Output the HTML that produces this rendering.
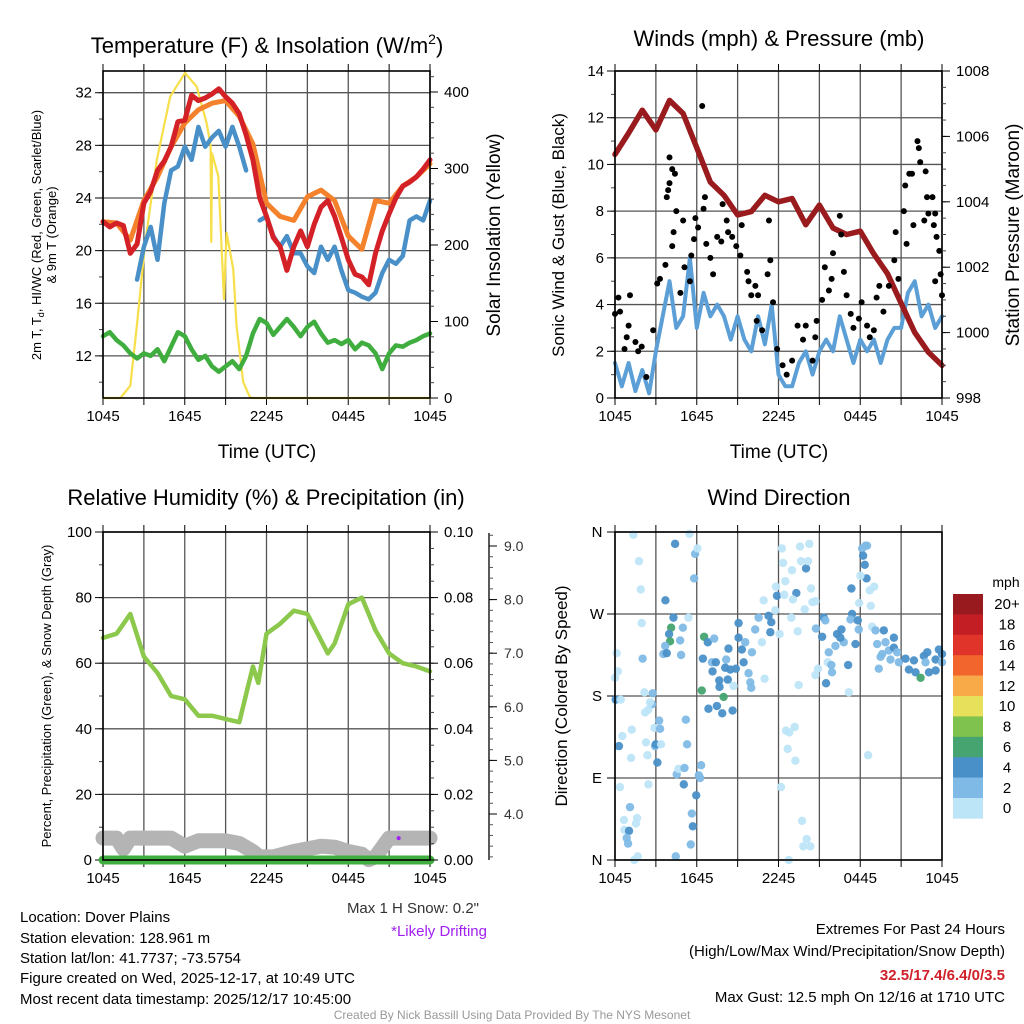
<!DOCTYPE html>
<html><head><meta charset="utf-8"><title>Dover Plains Meteogram</title>
<style>
html,body{margin:0;padding:0;background:#fff;}
svg{display:block;font-family:"Liberation Sans",Arial,sans-serif;}
</style></head>
<body>
<svg id="chart" width="1024" height="1024" viewBox="0 0 1024 1024" xmlns="http://www.w3.org/2000/svg">
<rect x="0" y="0" width="1024" height="1024" fill="#fff"/>
<g fill="#000" text-anchor="middle" font-size="22">
<text x="267" y="53">Temperature (F) &amp; Insolation (W/m<tspan dy="-9" font-size="14">2</tspan><tspan dy="9">)</tspan></text>
<text x="779" y="46">Winds (mph) &amp; Pressure (mb)</text>
<text x="266" y="505">Relative Humidity (%) &amp; Precipitation (in)</text>
<text x="779" y="505">Wind Direction</text>
</g>
<g fill="#000" text-anchor="middle">
<text x="267" y="458" font-size="19">Time (UTC)</text>
<text x="779" y="458" font-size="19">Time (UTC)</text>
<text transform="translate(41,235) rotate(-90)" font-size="13">2m T, T<tspan font-size="9" dy="3">d</tspan><tspan dy="-3">, HI/WC (Red, Green, Scarlet/Blue)</tspan></text>
<text transform="translate(56,235) rotate(-90)" font-size="13">&amp; 9m T (Orange)</text>
<text transform="translate(500,235) rotate(-90)" font-size="19">Solar Insolation (Yellow)</text>
<text transform="translate(564,235) rotate(-90)" font-size="17">Sonic Wind &amp; Gust (Blue, Black)</text>
<text transform="translate(1019,235) rotate(-90)" font-size="19">Station Pressure (Maroon)</text>
<text transform="translate(51,696) rotate(-90)" font-size="13">Percent, Precipitation (Green), &amp; Snow Depth (Gray)</text>
<text transform="translate(567,696) rotate(-90)" font-size="17">Direction (Colored By Speed)</text>
</g>
<g font-size="15" fill="#000">
<text x="20" y="922">Location: Dover Plains</text>
<text x="20" y="943">Station elevation: 128.961 m</text>
<text x="20" y="963">Station lat/lon: 41.7737; -73.5754</text>
<text x="20" y="983">Figure created on Wed, 2025-12-17, at 10:49 UTC</text>
<text x="20" y="1004">Most recent data timestamp: 2025/12/17 10:45:00</text>
<text x="479" y="913" text-anchor="end" fill="#333">Max 1 H Snow: 0.2"</text>
<text x="487" y="936" text-anchor="end" fill="#a020f0">*Likely Drifting</text>
<text x="1005" y="934" text-anchor="end">Extremes For Past 24 Hours</text>
<text x="1005" y="956" text-anchor="end">(High/Low/Max Wind/Precipitation/Snow Depth)</text>
<text x="1005" y="980" text-anchor="end" fill="#d0202a" font-weight="bold">32.5/17.4/6.4/0/3.5</text>
<text x="1005" y="1002" text-anchor="end">Max Gust: 12.5 mph On 12/16 at 1710 UTC</text>
<text x="512" y="1019" text-anchor="middle" font-size="12" fill="#999">Created By Nick Bassill Using Data Provided By The NYS Mesonet</text>
</g>
</svg>
<script>
// ---------- DATA ----------
const xTickLabels = ['1045','1645','2245','0445','1045'];
const hourly = [0,1,2,3,4,5,6,7,8,9,10,11,12,13,14,15,16,17,18,19,20,21,22,23,24];
const halfHours = [0,0.5,1,1.5,2,2.5,3,3.5,4,4.5,5,5.5,6,6.5,7,7.5,8,8.5,9,9.5,10,10.5,11,11.5,12,12.5,13,13.5,14,14.5,15,15.5,16,16.5,17,17.5,18,18.5,19,19.5,20,20.5,21,21.5,22,22.5,23,23.5,24];
// Panel 1 temperatures (F)
const temp2m = [22.2,21.8,22.1,21.9,19.8,20.5,23.6,24.5,26.1,26.8,27.9,29.8,29.9,31.8,31.4,31.6,31.9,32.3,31.7,31.2,30.4,28.8,26.9,24.0,22.6,21.0,20.3,18.5,20.3,21.5,20.3,22.0,23.3,23.8,22.6,21.0,19.3,18.2,18.0,17.4,19.8,21.5,22.8,24.0,24.9,25.2,25.6,26.2,26.9];
const temp9m = [22.2,22.1,20.8,23.8,25.6,27.9,29.7,30.7,31.2,31.4,30.2,28.1,23.6,22.6,22.3,24.1,24.6,23.8,21.1,20.1,23.8,23.6,24.9,25.6,26.6];
const dewpt = [13.5,13.8,13.2,12.8,12.2,11.8,12.2,12.0,12.5,11.6,12.7,13.8,13.5,12.5,11.7,12.0,11.2,10.8,11.2,11.6,11.0,12.0,13.7,14.8,14.5,13.6,14.2,14.8,14.2,13.5,14.2,14.6,13.7,13.0,13.2,12.9,13.2,12.5,13.0,12.8,12.2,11.0,12.2,12.8,12.7,13.0,13.2,13.5,13.7];
const hiwcHours = [1,1.5,2,2.5,3,3.5,4,4.5,5,5.5,6,6.5,7,7.5,8,8.5,9,9.5,10,10.5,11,11.5,12,12.5,13,13.5,14,14.5,15,15.5,16,16.5,17,17.5,18,18.5,19,19.5,20,20.5,21,21.5,22,22.5,23,23.5,24];
const hiwc = [20.4,null,null,17.8,20.3,21.8,19.3,23.6,26.1,26.4,27.9,26.9,29.4,27.9,28.6,29.1,27.9,29.4,27.9,26.1,null,22.3,22.6,21.1,20.3,21.1,19.8,19.8,18.8,18.3,20.3,19.3,20.3,18.5,17.0,16.8,16.5,16.3,16.8,18.3,19.3,19.0,19.6,22.3,22.6,22.3,23.8];
const solarHours = [0,1.27,2.0,2.49,3.1,3.95,4.93,6.02,6.88,7.61,7.9,7.95,8.0,8.46,8.88,9.07,9.56,9.8,10.29,10.78,11,24];
const solar = [0,0,16,95,203,311,394,425,407,359,330,204,320,290,129,216,168,95,21,1,0,0];
const p1LeftTicks = [12,16,20,24,28,32];
const p1RightTicks = [0,100,200,300,400];
// Panel 2
const windSpeed = [1.5,0.5,1.5,0.3,1.2,0.2,2,3.5,5,3,3.5,6,3,4.5,3.5,4,3.5,2.5,3.5,2.5,2,3.5,2.3,4,1,0.5,0.5,1.5,2,1,2,2.5,2,3.5,2.5,1.5,2.5,2,2.5,1.5,2.5,3,3,4.5,5,3.5,4,3,3.5];
const pressure = [1005.45,1006.1,1006.8,1006.2,1007.1,1006.7,1005.65,1004.6,1004.2,1003.6,1003.7,1004.2,1004.0,1004.1,1003.3,1003.9,1003.2,1003.0,1003.1,1002.4,1001.8,1000.9,1000.0,999.4,999.0];
const gustHours = [0,0.25,0.37,0.7,0.86,1.1,1,1.5,1.7,1.96,2.3,2.8,3.1,3.3,3.7,3.8,3.9,4,4,4.2,4.4,4.2,4.3,4.5,4.8,5,5.1,5.5,5.8,5.6,5.9,6.1,6.4,6.5,6.6,6.7,7,7.2,7.5,7.8,7.9,8.2,8.3,8.6,8.9,9.2,9.3,9.7,9.8,10,10.3,10.5,10.4,10.8,11.2,11.3,11.4,11.6,11.9,12.3,12.6,13,13.4,13.8,14,14.5,14.7,14.8,15.2,15.4,15.7,15.9,16,16.5,16.6,16.8,17,17.3,17.5,17.9,18.1,18.5,18.7,19,19.2,19.4,19.7,20.1,20.5,20.6,20.8,21.2,21.3,21.4,21.6,21.8,21.9,22.2,22.3,22.4,22.7,22.8,22.9,23,23.3,23.4,23.5,23.6,23.8,23.5,23.9,24];
const gustSpeed = [3.6,4.3,3.7,2.1,2.6,4.4,3.1,2.4,2,2.2,0.9,2.9,4.9,5.1,5.7,8.6,8.9,9.2,10.3,9.8,9.6,6.5,7.1,8,4.5,7.6,5.6,5,6.8,6.1,7.7,7.3,12.5,8.1,8.6,6.6,6,5.3,6.9,6.7,8.3,7.6,7.1,6.9,6.5,6.1,7.4,5.4,5,4.4,4.8,4.4,3.3,2.9,5.3,7.6,5.9,4.1,2.1,1.4,1,1.6,3.1,2.5,3.1,1.6,2.6,3.3,4.2,5.6,4.6,5.1,6.2,7.8,7,5.4,4.4,3.6,3,3.4,4.1,3.1,2.6,2.9,4.3,4.8,3.7,4.8,5.9,7.1,5.1,8,9.1,6.6,9.6,9.6,7.4,11,10.7,10.1,7.6,9.7,8.6,7.9,8.6,7.4,7.9,6.9,6.3,5,5.3,4.4];
const p2LeftTicks = [0,2,4,6,8,10,12,14];
const p2RightTicks = [998,1000,1002,1004,1006,1008];
// Panel 3
const rhHours = [0,1,2,3,4,5,6,7,8,9,10,11,11.4,12,13,14,15,16,16.5,17,18,19,20,21,22,23,24];
const rh = [67.7,69,75,62,57,50,49,44,44,43,42,59,54,69,72,76,75,67,63,66,78,80,70,63,60,59,57.5];
const snowHours = [0,1,1.5,2,5,6,7,9,10,11,11.5,12,12.5,14,15,16,17,18,19,19.5,20,21,24];
const snowDepth = [3.55,3.55,3.35,3.55,3.55,3.4,3.5,3.5,3.45,3.3,3.2,3.2,3.2,3.3,3.35,3.4,3.38,3.3,3.25,3.15,3.2,3.55,3.55];
const precipHours = [0,24];
const precip = [0,0];
const driftHours = [21.7];
const driftDepth = [3.55];
const p3LeftTicks = [0,20,40,60,80,100];
const p3RightTicks = [0,0.02,0.04,0.06,0.08,0.10];
const snowTicks = [4,5,6,7,8,9];
// Panel 4
const dirHours = [1.35,4.41,5.47,5.88,6.05,1.76,5.81,1.89,3.70,4.29,5.39,1.96,4.12,4.98,3.97,4.04,4.78,3.68,3.55,3.80,4.85,6.54,6.81,7.28,2.03,0.12,0.20,0,6.45,7.11,7.40,7.16,8.16,8.33,8.09,8.46,8.87,7.65,8.28,7.67,8.70,6.37,7.97,6.86,7.48,7.87,8.63,9.07,9.07,9.31,9.56,9.44,10.05,9.80,9.93,10.0,10.98,10.54,10.29,10.78,11.27,11.47,11.40,10.91,11.76,12.08,11.89,11.81,12.43,12.25,12.33,12.50,12.99,13.31,13.06,12.94,13.41,13.58,13.65,14.02,14.17,14.26,14.39,13.92,14.49,14.71,14.75,14.71,14.90,15.32,15.44,15.20,15.69,15.61,15.88,15.93,15.49,16.18,16.30,16.62,16.79,16.54,17.11,17.40,17.65,17.28,17.82,17.89,17.35,17.92,18.14,18.38,18.21,18.50,18.33,18.46,18.01,19.02,18.70,18.77,18.87,19.12,19.73,19.24,19.61,20.10,19.85,20.47,20.47,20.71,20.22,20.83,19.49,19.36,21.32,21.57,21.94,22.06,22.43,22.67,22.92,22.79,23.04,23.53,23.53,23.77,24.0,24.0,17.16,13.48,18.58,2.16,2.77,2.72,2.57,2.21,2.45,2.89,3.31,3.24,1.23,0.54,0.29,2.28,2.94,2.99,3.38,2.38,1.18,3.11,5.20,5.29,4.53,4.66,5.10,6.32,6.15,6.25,5.05,5.96,2.45,0.37,1.10,0.66,1.62,1.54,0.69,1.03,0.86,0.96,5.64,5.71,5.56,4.46,1.67,1.42,12.55,12.79,13.19,12.67,13.24,12.18,13.73,14.07,13.82,14.34,12.75,0.05,0.42];
const dirDeg = [357,347,358,336,342,328,309,297,285,266,266,260,255,255,248,240,241,235,226,227,225,245,239,243,221,227,207,200,221,217,217,207,220,232,211,209,210,197,198,190,191,186,179,166,169,161,164,260,244,231,239,217,228,205,195,189,199,266,253,239,268,261,250,285,274,248,290,300,291,342,326,306,318,293,286,266,251,344,328,320,328,347,298,275,283,284,254,203,210,266,263,245,228,217,214,206,194,235,248,253,239,244,214,270,237,264,263,253,298,282,342,345,334,345,324,309,312,300,296,279,256,252,252,237,226,230,239,244,233,228,220,217,223,210,221,209,219,206,200,224,228,217,206,208,220,231,226,217,184,192,115,184,183,171,173,162,165,145,144,153,143,136,125,129,125,127,127,115,112,107,154,127,94,100,101,104,93,90,83,71,83,80,58,44,46,40,33,32,24,18,51,37,17,4,4,0,142,140,146,122,109,80,43,23,15,15,0,176,176];
const dirSpeed = [1,5,1,3,1,1,3,1,5,5,1,1,7,3,5,7,3,3,3,5,3,7,5,3,3,1,1,1,5,3,5,5,3,5,5,5,5,5,5,5,1,7,7,5,5,5,5,5,5,5,3,5,3,3,3,3,1,3,3,1,5,5,5,1,1,1,5,1,1,1,1,1,1,5,1,1,1,1,1,5,1,1,1,1,1,1,3,1,1,5,3,5,3,1,3,3,5,3,5,5,3,5,5,5,5,3,5,3,5,1,3,3,5,3,5,5,1,1,1,1,1,3,5,3,3,3,3,5,5,3,3,3,3,3,5,5,5,5,7,5,5,3,5,5,5,5,5,3,1,1,1,1,3,3,1,1,1,1,3,3,1,1,5,1,3,5,1,1,1,5,3,3,3,1,3,3,3,3,5,5,1,1,3,1,1,1,1,5,3,3,3,5,3,3,1,1,1,1,1,1,1,1,1,1,1,1,1,5,1];
const dirTickLabels = ['N','E','S','W','N'];
const dirTicks = [0,90,180,270,360];
const speedBins = [0,2,4,6,8,10,12,14,16,18,20];
const speedBinLabels = ['0','2','4','6','8','10','12','14','16','18','20+'];
const speedColors = ['#bde5f8','#7fbae6','#4a90c8','#45a470','#7fc24e','#e6e05a','#f9aa48','#f2662d','#e0342a','#c41e25','#991a1e'];

// ---------- HELPERS ----------
const NS='http://www.w3.org/2000/svg';
const svg=document.getElementById('chart');
function mk(tag, attrs, name, parent){
  const el=document.createElementNS(NS,tag);
  for(const k in attrs) el.setAttribute(k,attrs[k]);
  
  
  (parent||svg).appendChild(el);
  return el;
}
function lin(d0,d1,r0,r1){return v=>r0+(v-d0)*(r1-r0)/(d1-d0);}
function pathFrom(xs,ys,X,Y){
  let d='',pen=false;
  for(let i=0;i<xs.length;i++){
    if(ys[i]===null||ys[i]===undefined){pen=false;continue;}
    d+=(pen?'L':'M')+X(xs[i]).toFixed(1)+' '+Y(ys[i]).toFixed(1);
    pen=true;
  }
  return d;
}
function frame(name,x0,x1,y0,y1,X,Yleft,leftTicks,leftMinor,leftFmt,gridTicks){
  const g=mk('g',{},name);
  for(let h=0;h<=24;h+=3){
    mk('line',{x1:X(h),x2:X(h),y1:y0,y2:y1,stroke:'#555','stroke-width':1.3},'vertical-gridline',g);
  }
  gridTicks.forEach(t=>{
    mk('line',{x1:x0,x2:x1,y1:Yleft(t),y2:Yleft(t),stroke:'#555','stroke-width':1.3},'horizontal-gridline',g);
  });
  for(let h=0;h<=24;h+=3){
    mk('line',{x1:X(h),x2:X(h),y1:y1,y2:y1+7,stroke:'#000','stroke-width':1},'x-tick',g);
    mk('line',{x1:X(h),x2:X(h),y1:y0,y2:y0-7,stroke:'#000','stroke-width':1},'x-tick-top',g);
  }
  xTickLabels.forEach((l,i)=>{
    const t=mk('text',{x:X(i*6),y:y1+23,'text-anchor':'middle','font-size':15},'x-tick-label',g);
    t.textContent=l;
  });
  leftMinor.forEach(t=>{
    mk('line',{x1:x0-4,x2:x0,y1:Yleft(t),y2:Yleft(t),stroke:'#444','stroke-width':1},'y-minor-tick',g);
  });
  leftTicks.forEach(t=>{
    mk('line',{x1:x0-8,x2:x0,y1:Yleft(t),y2:Yleft(t),stroke:'#000','stroke-width':1},'y-tick',g);
    const tx=mk('text',{x:x0-11,y:Yleft(t)+5,'text-anchor':'end','font-size':15},'y-tick-label',g);
    tx.textContent=leftFmt(t);
  });
  return g;
}
function rightAxis(name,x,y0,y1,Y,ticks,minor,fmt){
  const g=mk('g',{},name);
  minor.forEach(t=>{mk('line',{x1:x,x2:x+4,y1:Y(t),y2:Y(t),stroke:'#444','stroke-width':1},'right-minor-tick',g);});
  ticks.forEach(t=>{
    mk('line',{x1:x,x2:x+8,y1:Y(t),y2:Y(t),stroke:'#000','stroke-width':1},'right-tick',g);
    const tx=mk('text',{x:x+14,y:Y(t)+5,'text-anchor':'start','font-size':15},'right-tick-label',g);
    tx.textContent=fmt(t);
  });
  return g;
}
function border(x0,x1,y0,y1,name){
  mk('rect',{x:x0,y:y0,width:x1-x0,height:y1-y0,fill:'none',stroke:'#000','stroke-width':1.6},name);
}
function range(a,b,s){const r=[];for(let v=a;v<=b+1e-9;v+=s)r.push(+v.toFixed(4));return r;}

// ---------- PANEL 1 ----------
{
  const x0=103,x1=430,y0=71,y1=398;
  const X=lin(0,24,x0,x1), T=lin(8.8,33.65,y1,y0), S=lin(0,400,398,92);
  frame('temperature-panel',x0,x1,y0,y1,X,T,p1LeftTicks,range(10,32,2),v=>String(v),p1LeftTicks);
  const g=mk('g',{fill:'none','stroke-linejoin':'round','stroke-linecap':'round'},'temperature-series');
  mk('path',{d:pathFrom(solarHours,solar,X,S),stroke:'#f7df4a','stroke-width':2.2},'solar-insolation-line',g);
  mk('path',{d:pathFrom(halfHours,dewpt,X,T),stroke:'#3fae3f','stroke-width':4.5},'dewpoint-line',g);
  mk('path',{d:pathFrom(hiwcHours,hiwc,X,T),stroke:'#4a90c8','stroke-width':4.5},'heat-index-wind-chill-line',g);
  mk('path',{d:pathFrom(hourly,temp9m,X,T),stroke:'#f4812c','stroke-width':5},'temp-9m-line',g);
  mk('path',{d:pathFrom(halfHours,temp2m,X,T),stroke:'#d42027','stroke-width':5},'temp-2m-line',g);
  border(x0,x1,y0,y1,'temperature-plot-border');
  rightAxis('solar-axis',x1,y0,y1,S,p1RightTicks,range(0,420,20),v=>String(v));
}
// ---------- PANEL 2 ----------
{
  const x0=615,x1=942,y0=71,y1=398;
  const X=lin(0,24,x0,x1), W=lin(0,14,y1,y0), P=lin(998,1008,y1,y0);
  frame('winds-panel',x0,x1,y0,y1,X,W,p2LeftTicks,range(0,14,1),v=>String(v),p2LeftTicks);
  const g=mk('g',{fill:'none','stroke-linejoin':'round','stroke-linecap':'round'},'wind-series');
  mk('path',{d:pathFrom(halfHours,windSpeed,X,W),stroke:'#5b9fd6','stroke-width':4},'sonic-wind-line',g);
  const gd=mk('g',{fill:'#000'},'gust-points');
  for(let i=0;i<gustHours.length;i++){
    mk('circle',{cx:X(gustHours[i]),cy:W(gustSpeed[i]),r:3},'gust-point',gd);
  }
  mk('path',{d:pathFrom(hourly,pressure,X,P),stroke:'#9a1b1e','stroke-width':5.5},'pressure-line',g);
  border(x0,x1,y0,y1,'winds-plot-border');
  rightAxis('pressure-axis',x1,y0,y1,P,p2RightTicks,range(998,1008,0.5),v=>String(v));
}
// ---------- PANEL 3 ----------
{
  const x0=103,x1=430,y0=532,y1=860;
  const X=lin(0,24,x0,x1), R=lin(0,100,y1,y0), Pr=lin(0,0.1,y1,y0), Sn=lin(4,9,814,546);
  frame('humidity-panel',x0,x1,y0,y1,X,R,p3LeftTicks,range(0,100,10),v=>String(v),p3LeftTicks);
  const g=mk('g',{fill:'none','stroke-linejoin':'round','stroke-linecap':'round'},'humidity-series');
  mk('path',{d:pathFrom(snowHours,snowDepth,X,Sn),stroke:'#b4b4b4','stroke-width':15},'snow-depth-line',g);
  mk('path',{d:pathFrom(precipHours,precip,X,Pr),stroke:'#3fae3f','stroke-width':9},'precipitation-line',g);
  mk('path',{d:pathFrom(rhHours,rh,X,R),stroke:'#8cc84b','stroke-width':4.5},'relative-humidity-line',g);
  for(let i=0;i<driftHours.length;i++){
    mk('circle',{cx:X(driftHours[i]),cy:Sn(driftDepth[i]),r:2,fill:'#a020f0'},'drifting-marker',g);
  }
  border(x0,x1,y0,y1,'humidity-plot-border');
  rightAxis('precip-axis',x1,y0,y1,Pr,p3RightTicks,range(0,0.1,0.005),v=>v.toFixed(2));
  const sg=mk('g',{},'snow-axis');
  mk('line',{x1:489,x2:489,y1:533,y2:860,stroke:'#000','stroke-width':1.3},'snow-axis-line',sg);
  range(3.2,9.2,0.2).forEach(t=>{mk('line',{x1:489,x2:493,y1:Sn(t),y2:Sn(t),stroke:'#555','stroke-width':1},'snow-minor-tick',sg);});
  snowTicks.forEach(t=>{
    mk('line',{x1:489,x2:497,y1:Sn(t),y2:Sn(t),stroke:'#000','stroke-width':1},'snow-tick',sg);
    const tx=mk('text',{x:504,y:Sn(t)+5,'font-size':14,fill:'#333'},'snow-tick-label',sg);
    tx.textContent=t.toFixed(1);
  });
}
// ---------- PANEL 4 ----------
{
  const x0=615,x1=942,y0=532,y1=860;
  const X=lin(0,24,x0,x1), D=lin(0,360,y1,y0);
  const g0=frame('wind-direction-panel',x0,x1,y0,y1,X,D,[],[],v=>'',dirTicks);
  dirTicks.forEach((t,i)=>{
    mk('line',{x1:x0-8,x2:x0,y1:D(t),y2:D(t),stroke:'#000','stroke-width':1},'direction-tick',g0);
    const tx=mk('text',{x:x0-18,y:D(t)+5,'text-anchor':'middle','font-size':15},'direction-tick-label',g0);
    tx.textContent=dirTickLabels[i];
  });
  function colorFor(s){let k=0;for(let i=0;i<speedBins.length;i++){if(s>=speedBins[i])k=i;}return speedColors[k];}
  const g=mk('g',{'fill-opacity':0.95},'direction-points');
  for(let i=0;i<dirHours.length;i++){
    mk('circle',{cx:X(dirHours[i]),cy:D(dirDeg[i]),r:4.2,fill:colorFor(dirSpeed[i])},'direction-point',g);
  }
  border(x0,x1,y0,y1,'wind-direction-plot-border');
  const cb=mk('g',{},'speed-colorbar');
  const t=mk('text',{x:1006,y:587,'text-anchor':'middle','font-size':14},'colorbar-title',cb);
  t.textContent='mph';
  const n=speedColors.length, top=594, bh=20.4;
  for(let i=0;i<n;i++){
    const idx=n-1-i;
    mk('rect',{x:953,y:top+i*bh,width:30,height:bh+0.3,fill:speedColors[idx]},'colorbar-box',cb);
    const lt=mk('text',{x:1007,y:top+i*bh+bh/2+5,'text-anchor':'middle','font-size':15},'colorbar-label',cb);
    lt.textContent=speedBinLabels[idx];
  }
}
</script>
</body></html>
